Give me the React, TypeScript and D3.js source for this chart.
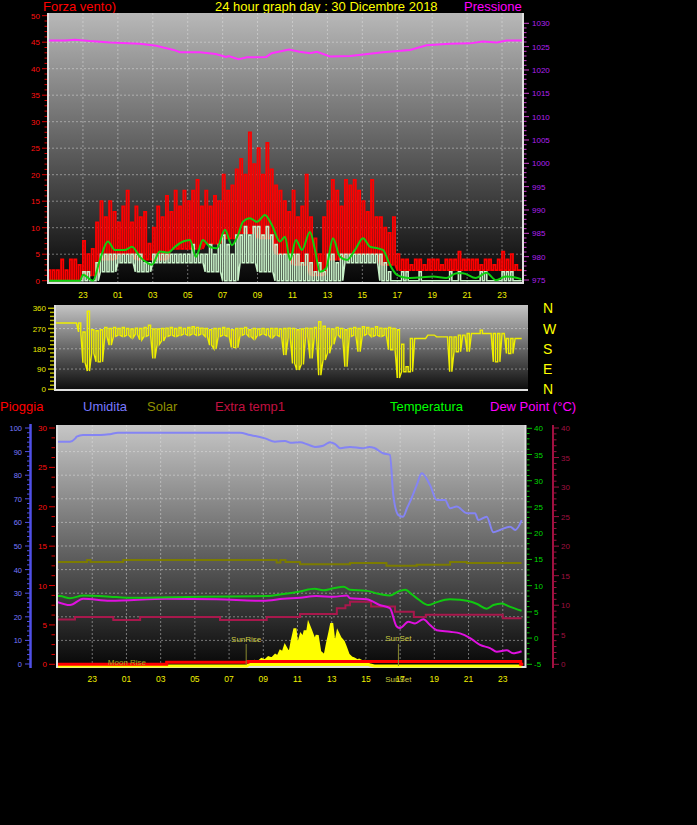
import React from "react";
import * as d3 from "d3";

type Pt = [number, number];

// hours relative to midnight of 30/12 (-3 = 21:00 of the previous day)
const hourTicks = [-1, 1, 3, 5, 7, 9, 11, 13, 15, 17, 19, 21, 23];
const hourLabels = ["23", "01", "03", "05", "07", "09", "11", "13", "15", "17", "19", "21", "23"];

// noisy series are read as one peak per 15 minutes from 21:00
const binStart = -3;
const binStep = 0.25;

// wind gust peaks (4 per hour)
const gustPeak = [
  2, 2, 2, 4, // 21
  2, 4, 4, 3, // 22
  7.5, 5, 6, 11, // 23
  15, 12, 15, 13, // 00
  11, 14, 17, 11, // 01
  14, 12, 13, 7, // 02
  10, 14, 12, 16, // 03
  13, 17, 14, 17, // 04
  15, 17, 19, 14, // 05
  17, 14, 16, 15, // 06
  20, 17, 18, 21, // 07
  23, 20, 28, 22, // 08
  25, 20, 26, 21, // 09
  18, 17, 15, 13, // 10
  17, 12, 14, 20, // 11
  12, 8, 5, 12, // 12
  15, 19, 17, 14, // 13
  19, 18, 19, 17, // 14
  15, 13, 19, 12, // 15
  12, 10, 9, 12, // 16
  5, 4, 4, 3, // 17
  4, 4, 3, 4, // 18
  4, 4, 3, 4, // 19
  4, 4, 5.5, 4, // 20
  4, 4, 4, 3, // 21
  4, 4, 3, 4, // 22
  5.5, 4, 5, 3, // 23
  2,
];
// gust floor, one per hour from 21:00
const gustFloor = [0, 0, 1, 4, 5, 4, 4, 6, 6, 7, 8, 9, 8, 5, 3, 1, 4, 5, 5, 3, 2, 2, 2, 2, 2, 2, 2];

// wind speed peaks (4 per hour)
const speedPeak = [
  0, 0, 0, 0, // 21
  0, 0, 0, 0, // 22
  1.7, 1.7, 0, 3.4, // 23
  5, 5, 5, 5, // 00
  5, 5, 5, 5, // 01
  5, 5, 3.4, 3.4, // 02
  5, 5, 5, 5, // 03
  5, 5, 5, 5, // 04
  5, 6.8, 5, 5, // 05
  5, 6.8, 5, 6.8, // 06
  8.6, 6.8, 5, 8.6, // 07
  8.6, 10.2, 8.6, 10.2, // 08
  10.2, 8.6, 10.2, 8.6, // 09
  6.8, 5, 5, 5, // 10
  5, 5, 3.4, 5, // 11
  3.4, 1.7, 3.4, 1.7, // 12
  5, 5, 3.4, 5, // 13
  5, 5, 5, 5, // 14
  5, 5, 5, 5, // 15
  5, 3.4, 1.7, 0, // 16
  0, 1.7, 1.7, 0, // 17
  0, 1.7, 0, 0, // 18
  0, 0, 0, 0, // 19
  1.7, 0, 1.7, 0, // 20
  0, 0, 0, 1.7, // 21
  1.7, 0, 0, 0, // 22
  1.7, 1.7, 1.7, 0, // 23
  0,
];
const speedFloor = [0, 0, 0, 1.7, 3.4, 1.7, 3.4, 3.4, 3.4, 1.7, 0, 3.4, 1.7, 0, 0, 0, 0, 3.4, 3.4, 0, 0, 0, 0, 0, 0, 0, 0];

const windAvg: Pt[] = [
  [-3, 0], [-1.17, 0], [-1, 1.1], [-0.43, 0], [-0.03, 3.9], [0.43, 7.4], [0.83, 5.8], [1.41, 5.8],
  [1.81, 6.4], [2.26, 4.5], [2.72, 3.3], [2.95, 3.0], [3.41, 5.5], [3.87, 5.3], [4.27, 6.4], [4.73, 7.4],
  [5.13, 7.7], [5.47, 4.5], [5.87, 7.7], [6.27, 6.4], [6.67, 6.1], [7.13, 9.6], [7.53, 6.7], [7.88, 8.6],
  [8.16, 11.1], [8.56, 11.8], [8.97, 11.1], [9.42, 12.4], [9.82, 10.5], [10.28, 7.4], [10.57, 8.3],
  [10.86, 3.9], [11.2, 7.7], [11.54, 5.8], [12.0, 9.2], [12.29, 5.8], [12.57, 1.7], [12.92, 2.3],
  [13.32, 8.0], [13.72, 4.5], [14.12, 3.9], [14.58, 5.8], [15.04, 8.0], [15.44, 6.4], [15.9, 6.1],
  [16.18, 5.8], [16.58, 3.0], [16.98, 1.1], [17.61, 0.5], [18.3, 0.6], [19.05, 0.8], [19.8, 0.5],
  [20.4, 1.4], [20.75, 1.4], [21.5, 0.5], [22.1, 1.5], [22.65, 0.1], [23.2, 0.8], [24.1, 0.3],
];

const pressure: Pt[] = [
  [-3, 1026.3], [-2, 1026.3], [-1.46, 1026.5], [-0.6, 1026.2], [0.55, 1025.9], [2.26, 1025.6],
  [3.2, 1025.2], [3.6, 1024.8], [4.2, 1024.3], [4.56, 1023.8], [5.7, 1023.8], [6.6, 1023.4],
  [7.2, 1022.8], [7.35, 1023.0], [7.9, 1022.3], [8.4, 1022.7], [9.5, 1022.8], [9.8, 1023.6],
  [10.8, 1024.4], [11.4, 1023.9], [12.0, 1023.6], [12.4, 1023.9], [13.15, 1022.9], [14.3, 1023.0],
  [16.18, 1023.8], [17.73, 1024.3], [18.68, 1025.3], [20.0, 1025.6], [21.16, 1025.7], [21.9, 1026.1],
  [22.7, 1025.9], [23.27, 1026.3], [24.15, 1026.3],
];

// wind direction (degrees), peak and floor per 15 minutes
const dirHigh = [
  295, 295, 295, 295, // 21
  295, 295, 295, 295, // 22
  255, 347, 265, 260, // 23
  265, 275, 270, 275, // 00
  270, 275, 270, 268, // 01
  272, 270, 275, 285, // 02
  268, 268, 270, 272, // 03
  275, 270, 275, 270, // 04
  275, 278, 275, 272, // 05
  270, 265, 270, 270, // 06
  275, 270, 265, 270, // 07
  270, 275, 265, 270, // 08
  268, 270, 268, 270, // 09
  270, 268, 270, 272, // 10
  270, 265, 268, 272, // 11
  270, 275, 300, 280, // 12
  270, 268, 275, 270, // 13
  265, 270, 275, 270, // 14
  278, 275, 270, 278, // 15
  272, 270, 275, 270, // 16
  265, 200, 100, 226, // 17
  226, 226, 226, 241, // 18
  241, 233, 233, 233, // 19
  233, 233, 241, 241, // 20
  248, 248, 248, 263, // 21
  248, 248, 248, 248, // 22
  248, 226, 226, 226, // 23
  226,
];
const dirLow = [
  295, 295, 295, 295, // 21
  295, 295, 295, 255, // 22
  118, 81, 160, 122, // 23
  122, 235, 196, 235, // 00
  240, 235, 240, 230, // 01
  245, 220, 235, 240, // 02
  137, 200, 215, 235, // 03
  240, 235, 240, 245, // 04
  240, 245, 240, 245, // 05
  235, 196, 180, 235, // 06
  240, 235, 186, 185, // 07
  240, 245, 235, 225, // 08
  240, 245, 240, 230, // 09
  240, 235, 152, 230, // 10
  115, 86, 110, 235, // 11
  137, 235, 63, 130, // 12
  160, 200, 240, 230, // 13
  100, 235, 240, 167, // 14
  240, 245, 235, 240, // 15
  235, 240, 176, 176, // 16
  50, 78, 78, 78, // 17
  226, 226, 226, 241, // 18
  241, 233, 233, 233, // 19
  78, 167, 167, 241, // 20
  167, 248, 248, 248, // 21
  248, 248, 122, 122, // 22
  248, 159, 159, 226, // 23
  226,
];
const compassLabels = ["N", "W", "S", "E", "N"];
const compassDegrees = [360, 270, 180, 90, 0];

const humidity: Pt[] = [
  [-3.06, 94.2], [-2.3, 94.2], [-2.0, 95.5], [-1.91, 96.3], [-1.54, 97], [-0.5, 97], [0.04, 97.4],
  [0.5, 98], [1.01, 98], [7.64, 98], [8.22, 97], [8.6, 96.5], [9.1, 95.6], [9.68, 94.2], [10.27, 94.5],
  [10.6, 93.8], [11.15, 94], [11.6, 93], [12.03, 92], [12.5, 92.5], [12.9, 94], [13.2, 93.2],
  [13.5, 91.4], [14.07, 92], [14.8, 91.4], [15.2, 92], [15.5, 91.5], [16.0, 89.3], [16.4, 88.6],
  [16.6, 71.6], [16.9, 63.1], [17.17, 62.4], [17.4, 66], [17.58, 68.8], [17.97, 75.8], [18.26, 80.8],
  [18.75, 75.8], [19.14, 69.5], [19.63, 69.5], [19.92, 66], [20.31, 66.7], [20.9, 63.9], [21.38, 63.9],
  [21.57, 61], [22.06, 62.4], [22.45, 55.8], [22.84, 56.8], [23.43, 58.2], [23.73, 56.8], [24.11, 61],
];

const temperature: Pt[] = [
  [-3.06, 8.0], [-2.89, 8.0], [-2.3, 7.6], [-1.53, 8.1], [0.04, 7.9], [1.01, 7.7], [5.3, 7.9], [9.2, 8.0],
  [10.17, 8.4], [11.15, 8.9], [12.0, 9.4], [12.5, 9.1], [13.1, 9.5], [13.7, 9.8], [14.07, 9.2],
  [15.05, 9.0], [15.8, 8.4], [16.4, 8.1], [16.9, 8.9], [17.3, 9.2], [17.7, 8.3], [18.1, 7.3],
  [18.65, 6.3], [19.1, 6.8], [19.9, 7.4], [20.5, 7.3], [20.9, 7.1], [21.5, 6.5], [22.06, 5.6],
  [22.45, 6.3], [22.94, 6.6], [23.4, 6.0], [24.1, 5.2],
];

const dewPoint: Pt[] = [
  [-3.06, 6.9], [-2.3, 6.3], [-1.53, 7.5], [0.04, 7.1], [3.35, 7.5], [6.27, 7.4], [9.0, 7.1],
  [10.17, 7.5], [11.15, 7.7], [12.1, 8.0], [13.1, 7.9], [13.9, 8.1], [14.07, 7.6], [15.05, 7.4],
  [15.8, 6.3], [16.4, 5.7], [16.8, 2.2], [17.0, 1.9], [17.48, 3.1], [17.87, 2.8], [18.36, 3.6],
  [18.75, 2.5], [19.14, 1.5], [19.92, 1.2], [20.5, 0.9], [21.09, 0.0], [21.67, -1.3], [22.25, -1.9],
  [22.65, -2.6], [23.23, -2.3], [23.6, -2.9], [24.1, -2.5],
];

// on the crimson 0..40 axis
const extraTemp: Pt[] = [
  [-3.06, 7.6], [-2.01, 8.0], [0.23, 7.5], [1.8, 8.0], [6.47, 7.5], [9.2, 8.0], [11.15, 8.5],
  [13.3, 9.5], [13.8, 10.0], [14.07, 10.6], [15.3, 9.8], [16.7, 8.9], [17.8, 8.0], [18.5, 8.4],
  [23.0, 7.8], [24.1, 7.8],
];

const solarLine: Pt[] = [
  [-3.06, 14.5], [-1.3, 14.9], [-1.1, 14.5], [0.81, 14.9], [9.78, 14.4], [10.0, 14.9], [10.3, 14.5],
  [11.15, 14.1], [14.07, 14.3], [16.2, 13.8], [17.97, 14.0], [19.92, 14.5], [20.9, 14.3], [24.1, 14.3],
];

// W/m2
const radiation: Pt[] = [
  [-3.06, 0], [8.03, 0], [8.3, 12], [8.5, 20], [8.7, 15], [8.9, 28], [9.1, 22], [9.3, 35], [9.5, 30],
  [9.7, 45], [9.85, 38], [10.0, 62], [10.15, 55], [10.27, 82], [10.4, 65], [10.56, 56], [10.7, 110],
  [10.85, 159], [10.95, 95], [11.05, 90], [11.2, 130], [11.34, 117], [11.45, 150], [11.54, 120],
  [11.65, 172], [11.77, 150], [11.9, 125], [12.02, 103], [12.15, 130], [12.3, 60], [12.45, 50],
  [12.6, 39], [12.75, 95], [12.9, 145], [13.0, 181], [13.1, 120], [13.2, 82], [13.35, 140], [13.5, 117],
  [13.68, 103], [13.8, 80], [13.97, 47], [14.15, 35], [14.3, 30], [14.5, 22], [14.6, 25], [14.8, 18],
  [14.95, 20], [15.2, 5], [15.5, 0], [24.1, 0],
];

// mm
const rain: Pt[] = [[-3.06, 0], [3.35, 0.25], [8.1, 0.35], [24.05, 0], [24.2, 0]];

const sunRise = 8.0;
const sunSet = 16.9;
const moonRise = 1.03;

const FONT = "'Liberation Sans', Arial, Helvetica, sans-serif";

function pulses(peaks: number[], floor: (i: number) => number): Pt[] {
  const pts: Pt[] = [];
  peaks.forEach((p, i) => {
    const t = binStart + i * binStep;
    const f = Math.min(floor(i), p);
    pts.push([t, f], [t, p], [t + binStep / 2, p], [t + binStep / 2, f]);
  });
  return pts;
}

export default function App() {
  // top panel: wind + pressure
  const xTop = d3.scaleLinear().domain([-3, 24.2]).range([48, 523]);
  const yWind = d3.scaleLinear().domain([0, 50]).range([280.7, 15.7]);
  const yPress = d3.scaleLinear().domain([975, 1030]).range([280, 23.3]);
  // middle panel: direction
  const yDir = d3.scaleLinear().domain([0, 360]).range([389.3, 308.3]);
  // bottom panel
  const xBot = d3.scaleLinear().domain([-3.06, 24.3]).range([57, 525]);
  const yHum = d3.scaleLinear().domain([0, 100]).range([664, 428]);
  const yRain = d3.scaleLinear().domain([0, 30]).range([664.3, 428]);
  const yTemp = d3.scaleLinear().domain([-5, 40]).range([664.3, 428.3]);
  const yExtra = d3.scaleLinear().domain([0, 40]).range([664.3, 428]);
  const ySolar = d3.scaleLinear().domain([0, 1000]).range([666, 430]);

  const lineTop = (y: d3.ScaleLinear<number, number>, curve: d3.CurveFactory = d3.curveLinear) =>
    d3.line<Pt>().x((d) => xTop(d[0])).y((d) => y(d[1])).curve(curve);
  const lineBot = (y: d3.ScaleLinear<number, number>, curve: d3.CurveFactory = d3.curveLinear) =>
    d3.line<Pt>().x((d) => xBot(d[0])).y((d) => y(d[1])).curve(curve);

  const gustPts = pulses(gustPeak, (i) => gustFloor[Math.min(Math.floor(i / 4), gustFloor.length - 1)]);
  const speedPts = pulses(speedPeak, (i) => speedFloor[Math.min(Math.floor(i / 4), speedFloor.length - 1)]);
  const dirPts = pulses(dirHigh, (i) => dirLow[i]);

  const solarArea = d3
    .area<Pt>()
    .x((d) => xBot(d[0]))
    .y0(ySolar(0))
    .y1((d) => ySolar(d[1]));

  const grid = { stroke: "#e8e8e8", strokeOpacity: 0.45, strokeDasharray: "2,2", strokeWidth: 1 };

  return (
    <div style={{ position: "fixed", left: 0, top: 0 }}>
      <svg width={697} height={825} style={{ display: "block" }} fontFamily={FONT}>
        <defs>
          <linearGradient id="bgTop" x1="0" y1="0" x2="0" y2="1">
            <stop offset="0%" stopColor="#b8b8b8" />
            <stop offset="100%" stopColor="#060606" />
          </linearGradient>
          <linearGradient id="bgMid" x1="0" y1="0" x2="0" y2="1">
            <stop offset="0%" stopColor="#c4c4c4" />
            <stop offset="100%" stopColor="#0c0c0c" />
          </linearGradient>
          <linearGradient id="bgBot" x1="0" y1="0" x2="0" y2="1">
            <stop offset="0%" stopColor="#c6c6c6" />
            <stop offset="100%" stopColor="#060606" />
          </linearGradient>
          <clipPath id="clipTop">
            <rect x={48} y={13} width={475} height={270} />
          </clipPath>
          <clipPath id="clipMid">
            <rect x={55} y={305} width={473} height={85} />
          </clipPath>
          <clipPath id="clipBot">
            <rect x={57} y={425} width={468} height={245} />
          </clipPath>
        </defs>
        <rect width={697} height={825} fill="#000" />

        {/* ---------- top panel ---------- */}
        <text x={43} y={11} fontSize={13} fill="#ff0000">Forza vento)</text>
        <text x={215} y={11} fontSize={13} fill="#ffff00">24 hour graph day : 30 Dicembre 2018</text>
        <text x={464} y={11} fontSize={13} fill="#ff00ff">Pressione</text>

        <rect x={48} y={13} width={475} height={270} fill="url(#bgTop)" />
        {d3.range(5, 50, 5).map((v) => (
          <line key={`gw${v}`} x1={48} x2={523} y1={yWind(v)} y2={yWind(v)} {...grid} />
        ))}
        {hourTicks.map((h, i) => (
          <line key={`gt${i}`} x1={xTop(h)} x2={xTop(h)} y1={13} y2={283} {...grid} />
        ))}
        <g clipPath="url(#clipTop)">
          <path d={lineTop(yWind)(gustPts) ?? ""} fill="none" stroke="#ff0000" strokeWidth={1.8} />
          <path d={lineTop(yWind)(speedPts) ?? ""} fill="none" stroke="#c8f0c8" strokeWidth={1.6} />
          <path d={lineTop(yWind, d3.curveMonotoneX)(windAvg) ?? ""} fill="none" stroke="#10d010" strokeWidth={2} />
          <path d={lineTop(yPress)(pressure) ?? ""} fill="none" stroke="#ff30ff" strokeWidth={2} />
        </g>
        <line x1={48} x2={48} y1={13} y2={284} stroke="#e0e0e0" strokeWidth={2} />
        <line x1={523} x2={523} y1={13} y2={284} stroke="#e0e0e0" strokeWidth={2} />
        <line x1={47} x2={524} y1={283} y2={283} stroke="#e0e0e0" strokeWidth={2} />

        {d3.range(0, 51, 1).map((v) => (
          <line key={`wt${v}`} x1={v % 5 === 0 ? 42 : 44.5} x2={47} y1={yWind(v)} y2={yWind(v)} stroke="#e00000" strokeWidth={1} />
        ))}
        {d3.range(0, 51, 5).map((v) => (
          <text key={`wl${v}`} x={40} y={yWind(v) + 3} fontSize={8} fill="#ff1010" textAnchor="end">{v}</text>
        ))}
        {d3.range(975, 1031, 1).map((v) => (
          <line key={`pt${v}`} x1={524} x2={v % 5 === 0 ? 529 : 526.5} y1={yPress(v)} y2={yPress(v)} stroke="#d040d0" strokeWidth={1} />
        ))}
        {d3.range(975, 1031, 5).map((v) => (
          <text key={`pl${v}`} x={532} y={yPress(v) + 3} fontSize={8} fill="#b020f0">{v}</text>
        ))}
        {hourTicks.map((h, i) => (
          <text key={`ht${i}`} x={xTop(h)} y={298} fontSize={8.5} fill="#f0f000" textAnchor="middle">{hourLabels[i]}</text>
        ))}

        {/* ---------- middle panel: wind direction ---------- */}
        <rect x={55} y={305} width={473} height={85} fill="url(#bgMid)" />
        {[90, 180, 270].map((v) => (
          <line key={`gd${v}`} x1={55} x2={528} y1={yDir(v)} y2={yDir(v)} {...grid} />
        ))}
        <g clipPath="url(#clipMid)">
          <path d={lineTop(yDir)(dirPts) ?? ""} fill="none" stroke="#eeee00" strokeWidth={1.4} />
        </g>
        <line x1={55} x2={55} y1={305} y2={391} stroke="#e0e0e0" strokeWidth={2} />
        <line x1={54} x2={528} y1={390} y2={390} stroke="#e0e0e0" strokeWidth={2} />
        {d3.range(0, 361, 18).map((v) => (
          <line key={`dt${v}`} x1={v % 90 === 0 ? 48 : 50} x2={54} y1={yDir(v)} y2={yDir(v)} stroke="#b8b800" strokeWidth={1.5} />
        ))}
        {d3.range(0, 361, 90).map((v) => (
          <text key={`dl${v}`} x={46} y={yDir(v) + 3} fontSize={8} fill="#e8e800" textAnchor="end">{v}</text>
        ))}
        {compassLabels.map((c, i) => (
          <text key={`cl${i}`} x={543} y={yDir(compassDegrees[i]) + 5} fontSize={14} fill="#ffff00">{c}</text>
        ))}

        {/* ---------- bottom panel ---------- */}
        <text x={0} y={411} fontSize={13} fill="#ff0000">Pioggia</text>
        <text x={83} y={411} fontSize={13} fill="#7878ff">Umidita</text>
        <text x={147} y={411} fontSize={13} fill="#909000">Solar</text>
        <text x={215} y={411} fontSize={13} fill="#c01040">Extra temp1</text>
        <text x={390} y={411} fontSize={13} fill="#00ff00">Temperatura</text>
        <text x={490} y={411} fontSize={13} fill="#ff00ff">Dew Point (°C)</text>

        <rect x={57} y={425} width={468} height={243} fill="url(#bgBot)" />
        {d3.range(10, 100, 10).map((v) => (
          <line key={`gh${v}`} x1={57} x2={525} y1={yHum(v)} y2={yHum(v)} {...grid} />
        ))}
        {hourTicks.map((h, i) => (
          <line key={`gb${i}`} x1={xBot(h)} x2={xBot(h)} y1={425} y2={667} {...grid} />
        ))}
        <line x1={57} x2={525} y1={667} y2={667} stroke="#e0e0e0" strokeWidth={2} />
        <g clipPath="url(#clipBot)">
          <path d={solarArea(radiation) ?? ""} fill="#ffff00" />
          <path d={lineBot(ySolar)(radiation) ?? ""} fill="none" stroke="#ffff00" strokeWidth={3} />
          <path d={lineBot(yTemp, d3.curveStepAfter)(solarLine) ?? ""} fill="none" stroke="#7c7c00" strokeWidth={2} />
          <path d={lineBot(yExtra, d3.curveStepAfter)(extraTemp) ?? ""} fill="none" stroke="#a8184c" strokeWidth={2} />
          <path d={lineBot(yTemp, d3.curveMonotoneX)(dewPoint) ?? ""} fill="none" stroke="#e010e0" strokeWidth={2} />
          <path d={lineBot(yTemp, d3.curveMonotoneX)(temperature) ?? ""} fill="none" stroke="#10c810" strokeWidth={2} />
          <path d={lineBot(yHum, d3.curveMonotoneX)(humidity) ?? ""} fill="none" stroke="#8484f4" strokeWidth={2} />
          <path d={lineBot(yRain, d3.curveStepAfter)(rain) ?? ""} fill="none" stroke="#ff0000" strokeWidth={3} />
        </g>
        <line x1={57} x2={57} y1={425} y2={668} stroke="#e0e0e0" strokeWidth={2} />
        <line x1={525.5} x2={525.5} y1={425} y2={668} stroke="#e0e0e0" strokeWidth={2} />

        {/* sun / moon markers */}
        <line x1={xBot(sunRise)} x2={xBot(sunRise)} y1={644} y2={665} stroke="#8a8a30" strokeWidth={1} />
        <text x={xBot(sunRise)} y={642} fontSize={8} fill="#c8c840" textAnchor="middle">SunRise</text>
        <line x1={xBot(sunSet)} x2={xBot(sunSet)} y1={644} y2={666} stroke="#8a8a30" strokeWidth={1} />
        <text x={xBot(sunSet)} y={641} fontSize={8} fill="#c8c840" textAnchor="middle">SunSet</text>
        <text x={xBot(moonRise)} y={665} fontSize={8} fill="#a8a820" textAnchor="middle">Moon Rise</text>

        {/* humidity axis */}
        <line x1={30.5} x2={30.5} y1={424} y2={668} stroke="#5050e8" strokeWidth={2.5} />
        {d3.range(0, 101, 2).map((v) => (
          <line key={`hu${v}`} x1={v % 10 === 0 ? 25 : 27} x2={30} y1={yHum(v)} y2={yHum(v)} stroke="#5050e8" strokeWidth={1} />
        ))}
        {d3.range(0, 101, 10).map((v) => (
          <text key={`hl${v}`} x={22} y={yHum(v) + 3} fontSize={7.5} fill="#7878ff" textAnchor="end">{v}</text>
        ))}
        {/* rain axis */}
        {d3.range(0, 30.01, 1.25).map((v) => (
          <line key={`ra${v}`} x1={v % 5 === 0 ? 49 : 51.5} x2={55} y1={yRain(v)} y2={yRain(v)} stroke="#e00000" strokeWidth={1} />
        ))}
        {d3.range(0, 31, 5).map((v) => (
          <text key={`rl${v}`} x={47} y={yRain(v) + 3} fontSize={8} fill="#ff1010" textAnchor="end">{v}</text>
        ))}
        {/* temperature axis */}
        {d3.range(-5, 41, 1).map((v) => (
          <line key={`te${v}`} x1={527} x2={v % 5 === 0 ? 532 : 529.5} y1={yTemp(v)} y2={yTemp(v)} stroke="#00c000" strokeWidth={1} />
        ))}
        {d3.range(-5, 41, 5).map((v) => (
          <text key={`tl${v}`} x={534} y={yTemp(v) + 3} fontSize={8} fill="#00d800">{v}</text>
        ))}
        {/* extra temp axis */}
        <line x1={553} x2={553} y1={425} y2={668} stroke="#a01040" strokeWidth={2} />
        {d3.range(0, 41, 1).map((v) => (
          <line key={`ex${v}`} x1={554} x2={v % 5 === 0 ? 559 : 556.5} y1={yExtra(v)} y2={yExtra(v)} stroke="#a01040" strokeWidth={1} />
        ))}
        {d3.range(0, 41, 5).map((v) => (
          <text key={`el${v}`} x={561} y={yExtra(v) + 3} fontSize={8} fill="#a01040">{v}</text>
        ))}

        {hourTicks.map((h, i) => (
          <text key={`hb${i}`} x={xBot(h)} y={682} fontSize={8.5} fill="#f0f000" textAnchor="middle">{hourLabels[i]}</text>
        ))}
        <text x={xBot(sunSet)} y={682} fontSize={8} fill="#c8c840" textAnchor="middle">SunSet</text>
      </svg>
    </div>
  );
}
